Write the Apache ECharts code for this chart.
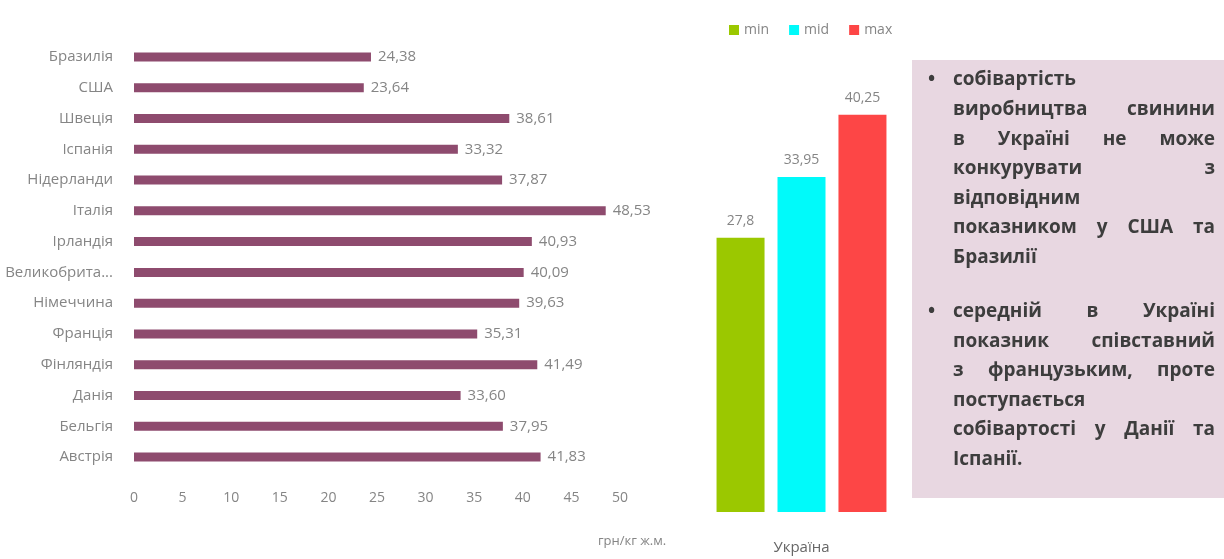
<!DOCTYPE html>
<html>
<head>
<meta charset="utf-8">
<script src="https://cdn.jsdelivr.net/npm/echarts@6/dist/echarts.min.js"></script>
<style>
html,body{margin:0;padding:0;background:#fff;}
#main{width:1224px;height:559px;}
</style>
</head>
<body>
<div id="main"></div>
<script>
// ---- data ----
var countries = ['Бразилія','США','Швеція','Іспанія','Нідерланди','Італія','Ірландія','Великобританія','Німеччина','Франція','Фінляндія','Данія','Бельгія','Австрія'];
var costs = [24.38,23.64,38.61,33.32,37.87,48.53,40.93,40.09,39.63,35.31,41.49,33.60,37.95,41.83];
var xTicks = [0,5,10,15,20,25,30,35,40,45,50];
var unitLabel = 'грн/кг ж.м.';
var uaCategory = ['Україна'];
var uaMin = [27.8];
var uaMid = [33.95];
var uaMax = [40.25];
var seriesNames = ['min','mid','max'];
var bullet1 = [
  'собівартість',
  'виробництва свинини',
  'в Україні не може',
  'конкурувати з',
  'відповідним',
  'показником у США та',
  'Бразилії'
];
var bullet1Justify = [false,true,true,true,false,true,false];
var bullet2 = [
  'середній в Україні',
  'показник співставний',
  'з французьким, проте',
  'поступається',
  'собівартості у Данії та',
  'Іспанії.'
];
var bullet2Justify = [true,true,true,false,true,false];

// ---- chart ----
var chart = echarts.init(document.getElementById('main'), null, {renderer:'canvas'});
var FONT = "'Open Sans', 'Noto Sans', sans-serif";
var gray = '#858585';

function commaFixed(v){ return v.toFixed(2).replace('.', ','); }
function comma(v){ return String(v).replace('.', ','); }

// text box graphics
var boxFont = "bold 19px 'Open Sans'";
var measureCtx = document.createElement('canvas').getContext('2d');
measureCtx.font = boxFont;
var textLeft = 953, textRight = 1215, bulletX = 928;
var textColor = '#3d3d3d';
var graphics = [{
  type:'rect', shape:{x:912, y:60, width:312, height:438}, style:{fill:'#e8d7e1'}, z:0
}];
function addParagraph(lines, justify, y0, step){
  graphics.push({type:'text', x:bulletX, y:y0, style:{text:'•', font:boxFont, fill:textColor, textAlign:'left', textVerticalAlign:'middle'}, z:2});
  lines.forEach(function(line, i){
    var y = y0 + i*step;
    var words = line.split(' ');
    if (justify[i] && words.length > 1) {
      var widths = words.map(function(w){ return measureCtx.measureText(w).width; });
      var total = widths.reduce(function(a,b){return a+b;},0);
      var gap = (textRight - textLeft - total)/(words.length-1);
      var x = textLeft;
      words.forEach(function(w, k){
        graphics.push({type:'text', x:x, y:y, style:{text:w, font:boxFont, fill:textColor, textAlign:'left', textVerticalAlign:'middle'}, z:2});
        x += widths[k] + gap;
      });
    } else {
      graphics.push({type:'text', x:textLeft, y:y, style:{text:line, font:boxFont, fill:textColor, textAlign:'left', textVerticalAlign:'middle'}, z:2});
    }
  });
}
addParagraph(bullet1, bullet1Justify, 80, 29.6);
addParagraph(bullet2, bullet2Justify, 312, 29.5);

var option = {
  backgroundColor:'#ffffff',
  animation:false,
  title:{
    text:unitLabel, left:593, top:530,
    textStyle:{fontFamily:FONT, fontSize:13, fontWeight:'normal', color:gray}
  },
  legend:{
    data:seriesNames, left:724, top:18,
    itemWidth:10, itemHeight:10, itemGap:20, icon:'rect',
    textStyle:{fontFamily:FONT, fontSize:14, color:gray}
  },
  grid:[
    {left:134, right:604, top:41.6, bottom:86.6, containLabel:false},
    {left:700, right:321, top:68, bottom:47, containLabel:false}
  ],
  xAxis:[
    {
      type:'value', gridIndex:0, min:xTicks[0], max:xTicks[xTicks.length-1], interval:5,
      axisLine:{show:false}, axisTick:{show:false}, splitLine:{show:false},
      axisLabel:{color:gray, fontFamily:FONT, fontSize:14, margin:19}
    },
    {
      type:'category', gridIndex:1, data:uaCategory,
      axisLine:{show:false}, axisTick:{show:false},
      axisLabel:{color:'#666', fontFamily:FONT, fontSize:15, margin:28}
    }
  ],
  yAxis:[
    {
      type:'category', gridIndex:0, data:countries, inverse:true,
      axisLine:{show:false}, axisTick:{show:false},
      axisLabel:{color:gray, fontFamily:FONT, fontSize:15, margin:21,
        formatter:function(v){ return v.length > 12 ? v.slice(0,11) + '...' : v; }}
    },
    {
      type:'value', gridIndex:1, min:0, max:45, show:false
    }
  ],
  graphic: graphics,
  series:[
    {
      type:'bar', xAxisIndex:0, yAxisIndex:0, data:costs, barWidth:9,
      itemStyle:{color:'#8e4b6e'},
      label:{show:true, position:'right', distance:7, color:gray, fontFamily:FONT, fontSize:15,
        formatter:function(p){ return commaFixed(p.value); }}
    },
    {
      name:seriesNames[0], type:'bar', xAxisIndex:1, yAxisIndex:1, data:uaMin, barWidth:48, barGap:'27%',
      itemStyle:{color:'#9bc800'},
      label:{show:true, position:'top', distance:10, color:gray, fontFamily:FONT, fontSize:14,
        formatter:function(p){ return comma(p.value); }}
    },
    {
      name:seriesNames[1], type:'bar', xAxisIndex:1, yAxisIndex:1, data:uaMid, barWidth:48, barGap:'27%',
      itemStyle:{color:'#00fafa'},
      label:{show:true, position:'top', distance:10, color:gray, fontFamily:FONT, fontSize:14,
        formatter:function(p){ return comma(p.value); }}
    },
    {
      name:seriesNames[2], type:'bar', xAxisIndex:1, yAxisIndex:1, data:uaMax, barWidth:48, barGap:'27%',
      itemStyle:{color:'#fd4646'},
      label:{show:true, position:'top', distance:10, color:gray, fontFamily:FONT, fontSize:14,
        formatter:function(p){ return comma(p.value); }}
    }
  ]
};
chart.setOption(option);
</script>
</body>
</html>
